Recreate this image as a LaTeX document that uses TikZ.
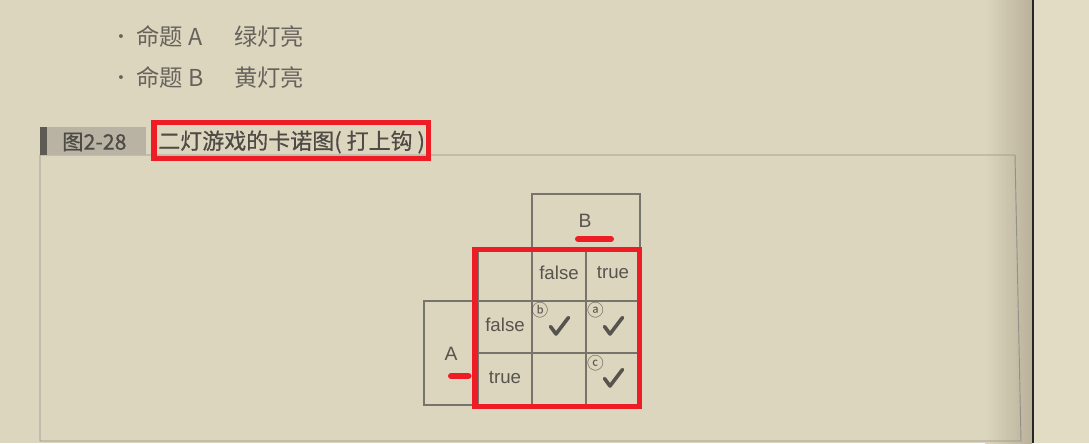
\documentclass[tikz,border=0pt]{standalone}
\usepackage{fontspec}
\setmainfont{Noto Sans CJK SC}
\newfontfamily\symfont{DejaVu Sans}
\newfontfamily\latinfont{Liberation Sans}
\newfontfamily\titlefont[FakeBold=0.6]{Noto Sans CJK SC}
\definecolor{paper}{HTML}{DDD6BE}
\definecolor{paperR}{HTML}{E3DCC4}
\definecolor{spine}{HTML}{B9B199}
\definecolor{ink}{HTML}{57544F}
\definecolor{inklight}{HTML}{66635D}
\definecolor{gridc}{HTML}{77746C}
\definecolor{tabfill}{HTML}{B8B3A3}
\definecolor{tabbar}{HTML}{5E5B55}
\definecolor{mark}{HTML}{EE1C25}
\tikzset{
  x=0.75pt, y=-0.75pt,
  txt/.style={inner sep=0pt, text=ink},
  bigtxt/.style={txt, text=inklight, font=\fontsize{17.5}{20}\selectfont},
  celltxt/.style={txt, font=\latinfont\fontsize{14}{16}\selectfont},
  circtxt/.style={txt, font=\fontsize{12.5}{14}\selectfont},
  chk/.style={draw=ink, line width=2.7pt, line join=round, line cap=round},
  gridline/.style={draw=gridc, line width=0.8pt},
  redbox/.style={draw=mark, line width=4pt},
  reddash/.style={draw=mark, line width=4.5pt, line cap=round},
}
\begin{document}
\begin{tikzpicture}
\useasboundingbox (0,0) rectangle (1089,443);
% paper
\fill[paper] (0,0) rectangle (1034,443);
\shade[left color=paper, right color=spine] (985,0) rectangle (1032,443);
\fill[paperR] (1034,0) rectangle (1089,443);
\fill[black!85] (1031.5,0) rectangle (1034,443);

% bullets
\node[txt, text=inklight, font=\symfont\fontsize{10}{12}\selectfont] (b1) at (121,38) {•};
\node[bigtxt, anchor=west] (p1) at (136,37) {命题 A};
\node[bigtxt, anchor=west] (q1) at (234,37) {绿灯亮};
\node[txt, text=inklight, font=\symfont\fontsize{10}{12}\selectfont] (b2) at (121,79) {•};
\node[bigtxt, anchor=west] (p2) at (136,78) {命题 B};
\node[bigtxt, anchor=west] (q2) at (234,78) {黄灯亮};

% frame
\draw[draw=gridc!80, line width=0.7pt] (40,155) -- (1015,155) -- (1021,441) -- (40,441) -- cycle;
% title tab
\fill[tabfill] (40,127) rectangle (146,155);
\fill[tabbar] (40,127) rectangle (46.5,155);
\node[txt, font=\titlefont\fontsize{16}{18}\selectfont, text=ink!90!black, anchor=west] (fig) at (62,142) {图2-28};
\node[txt, font=\titlefont\fontsize{16.5}{18}\selectfont, text=ink!90!black, anchor=west] (title) at (158,142) {二灯游戏的卡诺图( 打上钩 )};
\draw[redbox] (154,122.5) rectangle (428.5,158.5);

% Karnaugh grid
\draw[gridline] (532,194) rectangle (640,250);
\draw[gridline] (478,250) -- (640,250);
\draw[gridline] (532,250) -- (532,405);
\draw[gridline] (586,250) -- (586,405);
\draw[gridline] (640,250) -- (640,405);
\draw[gridline] (478,250) -- (478,405);
\draw[gridline] (424,301) rectangle (478,405);
\draw[gridline] (478,301) -- (640,301);
\draw[gridline] (478,353) -- (640,353);
\draw[gridline] (478,405) -- (640,405);

\node[celltxt, font=\latinfont\fontsize{14.5}{16}\selectfont] (B) at (585,221) {B};
\node[celltxt, font=\latinfont\fontsize{14.5}{16}\selectfont] (A) at (451,354) {A};
\node[celltxt] (bf) at (559,273) {false};
\node[celltxt] (bt) at (613,273) {true};
\node[celltxt] (af) at (505,325) {false};
\node[celltxt] (at) at (505,378) {true};

\node[circtxt] (cb) at (540,310) {ⓑ};
\node[circtxt] (ca) at (595.5,310) {ⓐ};
\node[circtxt] (cc) at (595.5,363) {ⓒ};

\coordinate (k1) at (559,327);
\coordinate (k2) at (613,327);
\coordinate (k3) at (613,379);
\foreach \k in {k1,k2,k3}
  \draw[chk] ([shift={(-8.5,-0.5)}]\k) -- ([shift={(-3,7)}]\k) -- ([shift={(9.5,-9.5)}]\k);

% red annotations
\draw[redbox] (475,249.5) rectangle (639.5,406.5);
\draw[reddash] (578,239) -- (611,239);
\draw[reddash] (451,376) -- (468.5,376);
\end{tikzpicture}
\end{document}
